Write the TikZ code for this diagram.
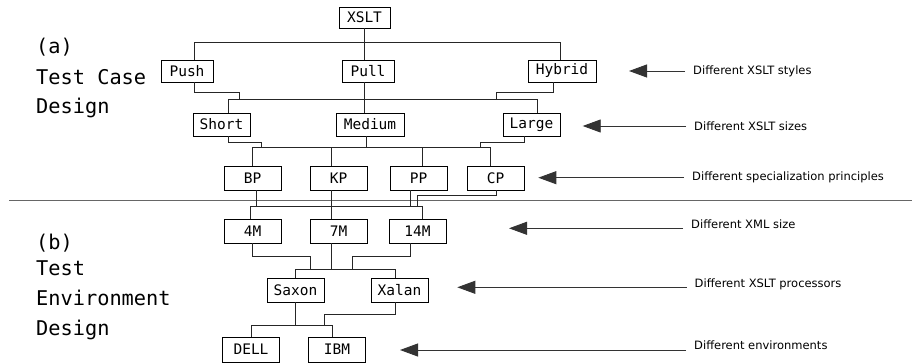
\documentclass[tikz,border=0pt]{standalone}
\usepackage{fontspec}
\setmonofont{DejaVu Sans Mono}
\newfontfamily\notefont{DejaVu Sans}
\usetikzlibrary{arrows.meta}

\begin{document}
\begin{tikzpicture}[
    x=1pt, y=-1pt,
    box/.style={rectangle, draw, line width=0.8pt, minimum width=57pt, minimum height=24pt, inner sep=2pt, font=\ttfamily\fontsize{14.5}{16}\selectfont},
    note/.style={anchor=west, inner xsep=8pt, inner ysep=0pt, font=\notefont\fontsize{11.5}{13}\selectfont},
    title/.style={anchor=base west, inner sep=0pt, font=\ttfamily\fontsize{20.3}{24}\selectfont},
    link/.style={draw=black!85, line width=0.8pt},
    pointer/.style={-{Triangle[length=18pt,width=13pt]}, draw=black!80, line width=0.9pt},
    divider/.style={draw=black!60, line width=1.2pt}
]
\useasboundingbox (0,0) rectangle (912,363);

% side titles
\node[title] (lblA1) at (36,54) {(a)};
\node[title] (lblA2) at (36,85) {Test Case};
\node[title] (lblA3) at (36,113.5) {Design};
\node[title] (lblB1) at (36,249) {(b)};
\node[title] (lblB2) at (36,275.7) {Test};
\node[title] (lblB3) at (36,305.7) {Environment};
\node[title] (lblB4) at (36,335.7) {Design};

% test case design
\node[box, minimum width=51pt, minimum height=21pt] (xslt) at (364.5,17.5) {XSLT};
\node[box, minimum width=52pt, minimum height=22pt] (push) at (187,71) {Push};
\node[box, minimum width=52pt, minimum height=22pt] (pull) at (368,71) {Pull};
\node[box, minimum width=68pt, minimum height=22pt] (hybrid) at (562,71) {Hybrid};
\node[box, minimum height=23pt] (short) at (221.5,124.5) {Short};
\node[box, minimum width=68pt, minimum height=23pt] (medium) at (370,124.5) {Medium};
\node[box, minimum height=23pt] (large) at (531.5,124.5) {Large};
\node[box] (bp) at (252.5,178) {BP};
\node[box] (kp) at (338.5,178) {KP};
\node[box] (pp) at (418.5,178) {PP};
\node[box] (cp) at (495.5,178) {CP};

% test environment design
\node[box] (m4) at (252.5,231) {4M};
\node[box] (m7) at (338.5,231) {7M};
\node[box] (m14) at (417.5,231) {14M};
\node[box] (saxon) at (295.5,290) {Saxon};
\node[box] (xalan) at (399.5,290) {Xalan};
\node[box, minimum height=25pt] (dell) at (251,349.5) {DELL};
\node[box, minimum height=25pt] (ibm) at (337,349.5) {IBM};

\draw[divider] (9,200.7) -- (912,200.7);

% bar levels
\coordinate (bar1) at (0,42);
\coordinate (elb2) at (0,92);
\coordinate (bar2) at (0,99);
\coordinate (elb3) at (0,142);
\coordinate (bar3) at (0,147);
\coordinate (elb4) at (0,195);
\coordinate (bar4) at (0,206.7);
\coordinate (elb5) at (0,256);
\coordinate (bar5) at (0,269.3);
\coordinate (elb6) at (0,314);
\coordinate (bar6) at (0,325);

% styles
\draw[link] (xslt.south) -- (xslt.south |- pull.north);
\draw[link] ([xshift=7pt]push.north) |- ([xshift=-2pt]hybrid.north |- bar1) -- ([xshift=-2pt]hybrid.north);

% sizes
\draw[link] (xslt.south |- pull.south) -- (xslt.south |- medium.north);
\draw[link] ([xshift=6.5pt]short.north) |- ([xshift=5.5pt]large.north |- bar2) -- ([xshift=5.5pt]large.north);
\draw[link] ([xshift=7pt]push.south) |- ([xshift=52pt]push.south |- elb2) -- ([xshift=52pt]push.south |- bar2);
\draw[link] ([xshift=-9pt]hybrid.south) |- ([xshift=-66pt]hybrid.south |- elb2) -- ([xshift=-66pt]hybrid.south |- bar2);

% principles
\draw[link] (bp.north) |- ([xshift=-5pt]cp.north |- bar3) -- ([xshift=-5pt]cp.north);
\draw[link] ([xshift=-7pt]kp.north) -- ([xshift=-7pt]kp.north |- bar3);
\draw[link] ([xshift=3.5pt]pp.north) -- ([xshift=3.5pt]pp.north |- bar3);
\draw[link] ([xshift=-3.5pt]medium.south) -- ([xshift=-3.5pt]medium.south |- bar3);
\draw[link] ([xshift=6.5pt]short.south) |- ([xshift=40pt]short.south |- elb3) -- ([xshift=40pt]short.south |- bar3);
\draw[link] ([xshift=-7.5pt]large.south) |- ([xshift=-51.5pt]large.south |- elb3) -- ([xshift=-51.5pt]large.south |- bar3);

% xml sizes
\draw[link] ([xshift=-2pt]m4.north) |- ([xshift=5pt]m14.north |- bar4) -- ([xshift=5pt]m14.north);
\draw[link] ([xshift=-7pt]kp.south) -- ([xshift=-7pt]m7.north);
\draw[link] ([xshift=4pt]bp.south) -- ([xshift=4pt]bp.south |- bar4);
\draw[link] ([xshift=-8.5pt]pp.south) -- ([xshift=-8.5pt]pp.south |- bar4);
\draw[link] ([xshift=0.5pt]cp.south) |- ([xshift=-78pt]cp.south |- elb4) -- ([xshift=-78pt]cp.south |- bar4);

% processors
\draw[link] (saxon.north) |- ([xshift=-4pt]xalan.north |- bar5) -- ([xshift=-4pt]xalan.north);
\draw[link] ([xshift=-7pt]m7.south) -- ([xshift=-7pt]m7.south |- bar5);
\draw[link] (m4.south) |- ([xshift=57.5pt]m4.south |- elb5) -- ([xshift=57.5pt]m4.south |- bar5);
\draw[link] ([xshift=-7.5pt]m14.south) |- ([xshift=-65pt]m14.south |- elb5) -- ([xshift=-65pt]m14.south |- bar5);

% environments
\draw[link] (dell.north) |- ([xshift=-5pt]ibm.north |- bar6) -- ([xshift=-5pt]ibm.north);
\draw[link] (saxon.south) -- (saxon.south |- bar6);
\draw[link] ([xshift=-4pt]xalan.south) |- ([xshift=-75pt]xalan.south |- elb6) -- ([xshift=-75pt]xalan.south |- bar6);

% notes
\node[note] (n1) at (685,71) {Different XSLT styles};
\node[note] (n2) at (686,126) {Different XSLT sizes};
\node[note] (n3) at (684,177.7) {Different specialization principles};
\node[note] (n4) at (683,224.3) {Different XML size};
\node[note] (n5) at (686.5,284) {Different XSLT processors};
\node[note] (n6) at (686,345) {Different environments};
\coordinate (t1) at (629,71);
\coordinate (t2) at (582.7,126);
\coordinate (t3) at (538.3,177.7);
\coordinate (t4) at (509,228.3);
\coordinate (t5) at (457.3,287.3);
\coordinate (t6) at (400,350);
\foreach \n in {1,...,6} {
    \draw[pointer] (n\n.west |- t\n) -- (t\n);
}

\end{tikzpicture}
\end{document}
